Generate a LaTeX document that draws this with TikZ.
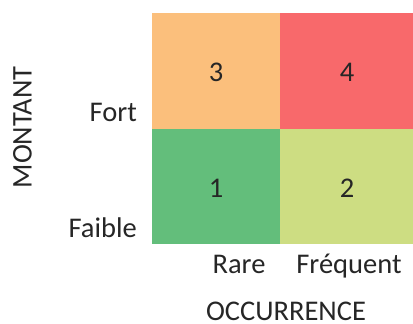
\documentclass[tikz,border=0pt]{standalone}
\usepackage{fontspec}
\setmainfont{Carlito}
\definecolor{cOrange}{HTML}{FBBF7C}
\definecolor{cRed}{HTML}{F8696B}
\definecolor{cGreen}{HTML}{63BE7B}
\definecolor{cLime}{HTML}{CDDD82}
\definecolor{txt}{HTML}{262626}
\begin{document}
\begin{tikzpicture}[x=1pt,y=-1pt,
  lbl/.style={inner sep=0pt,text=txt,font=\fontsize{28.5}{31}\selectfont}]
\useasboundingbox (0,0) rectangle (413,324);
% cells
\fill[cOrange] (152,13) rectangle (280,129);
\fill[cRed] (280,13) rectangle (413,129);
\fill[cGreen] (152,129) rectangle (280,244);
\fill[cLime] (280,129) rectangle (413,244);
% cell numbers
\node[lbl,anchor=base] (n3) at (216,81) {3};
\node[lbl,anchor=base] (n4) at (347,81) {4};
\node[lbl,anchor=base] (n1) at (216,197) {1};
\node[lbl,anchor=base] (n2) at (347,197) {2};
% axis labels
\node[lbl,anchor=base east] (fort) at (137,121) {Fort};
\node[lbl,anchor=base east] (faible) at (137,237) {Faible};
\node[lbl,anchor=base] (rare) at (239,273) {Rare};
\node[lbl,anchor=base] (freq) at (349,273) {Fréquent};
\node[lbl,anchor=base] (occ) at (286,320) {OCCURRENCE};
\node[lbl,anchor=base,rotate=90] (mont) at (31.7,127.3) {MONTANT};
\end{tikzpicture}
\end{document}
